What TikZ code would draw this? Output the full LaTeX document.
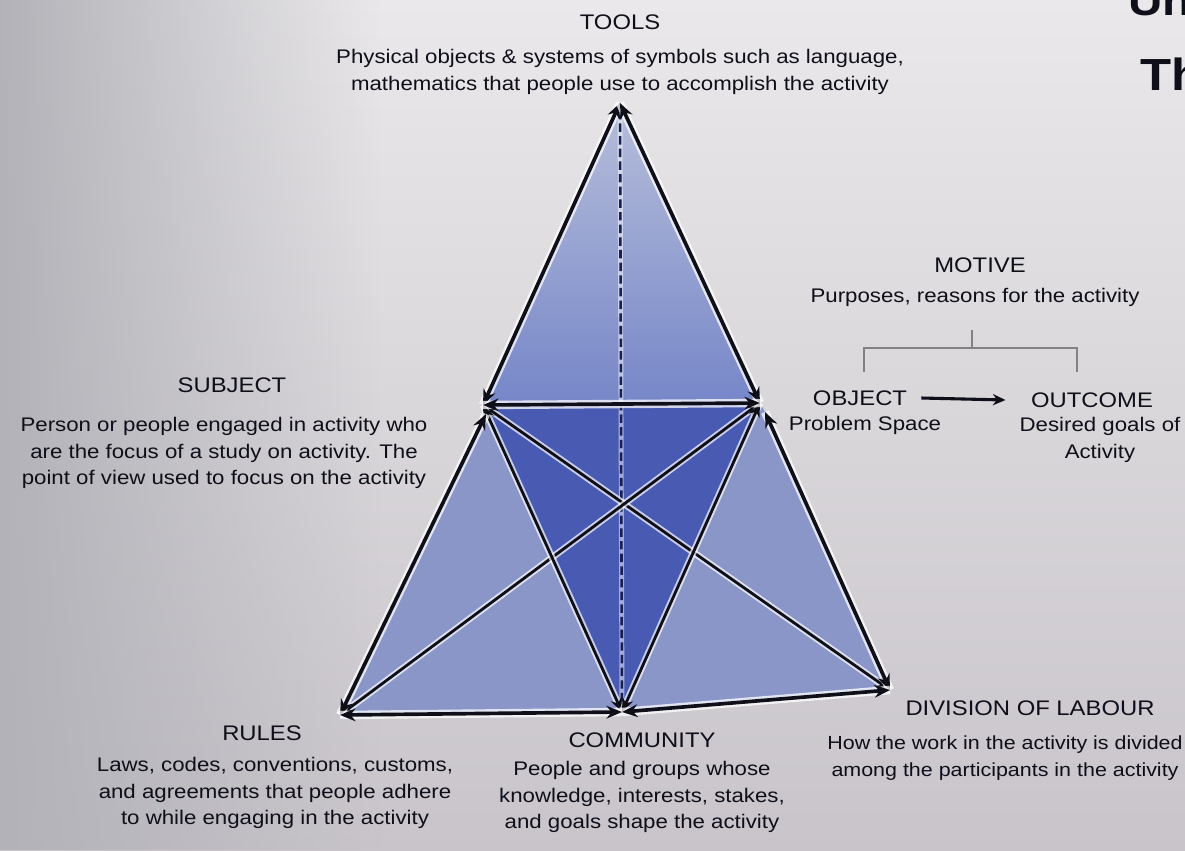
\documentclass[tikz,border=0pt]{standalone}
\usepackage{fontspec}
\setmainfont{Liberation Sans}[FakeStretch=1.13]
\usetikzlibrary{arrows.meta,fadings}
\definecolor{bgtop}{RGB}{234,232,234}
\definecolor{bgbot}{RGB}{200,196,202}
\definecolor{bgleft}{RGB}{178,178,184}
\definecolor{outerfill}{RGB}{138,150,200}
\definecolor{toptop}{RGB}{182,190,218}
\definecolor{topbot}{RGB}{118,134,200}
\definecolor{innerfill}{RGB}{72,90,178}
\definecolor{ink}{RGB}{15,15,25}
\definecolor{bracketgray}{RGB}{130,130,134}
\tikzset{
  lbl/.style={font=\fontsize{14}{19}\selectfont, text=ink, align=center, inner sep=0pt},
  title/.style={font=\fontsize{15}{19}\selectfont, text=ink, inner sep=0pt},
  edge/.style={draw=ink, line width=2.6pt, {Stealth[length=11pt,width=9pt]}-{Stealth[length=11pt,width=9pt]},
     preaction={draw=white, line width=6pt, arrows=-, opacity=0.75}},
  inedge/.style={draw=ink, line width=2pt, {Stealth[length=10pt,width=8pt]}-{Stealth[length=10pt,width=8pt]},
     preaction={draw=white, line width=4.8pt, arrows=-, opacity=0.7}},
  midline/.style={draw={rgb,255:red,25;green,30;blue,80}, line width=1.8pt, dash pattern=on 6pt off 3pt,
     {Stealth[length=9pt,width=8pt]}-{Stealth[length=9pt,width=8pt]},
     preaction={draw=white, line width=3.5pt, arrows=-, opacity=0.5}},
  brk/.style={draw=bracketgray, line width=1.6pt},
}
\begin{document}
\begin{tikzpicture}[x=0.025cm,y=-0.025cm]
\clip (0,0) rectangle (1185,850);
\shade[top color=bgtop, bottom color=bgbot] (0,0) rectangle (1185,850);
\fill[bgleft, path fading=east] (0,0) rectangle (380,850);

% vertices
\coordinate (T) at (620,103);
\coordinate (S) at (483,405);
\coordinate (O) at (760,403);
\coordinate (S2) at (486,414);
\coordinate (O2) at (765,412);
\coordinate (R) at (340,715);
\coordinate (C) at (622,712);
\coordinate (D) at (890,690);

% fills
\fill[outerfill] (T) -- (S) -- (S2) -- (R) -- (C) -- (D) -- (O2) -- (O) -- cycle;
\shade[top color=toptop, bottom color=topbot] (T) -- (S) -- (O) -- cycle;
\fill[innerfill] (S) -- (O) -- (C) -- cycle;

% inner lines
\draw[midline] (T) -- (C);
\draw[inedge] (S) -- (D);
\draw[inedge] (O) -- (R);
\draw[inedge] (S) -- (C);
\draw[inedge] (O) -- (C);

% outer edges
\draw[edge] (T) -- (S);
\draw[edge] (T) -- (O);
\draw[edge] (S) -- (O);
\draw[edge] (S2) -- (R);
\draw[edge] (O2) -- (D);
\draw[edge] (R) -- (C);
\draw[edge] (C) -- (D);

% labels
\node[title] (tools) at (620,22) {TOOLS};
\node[lbl] (toolsd) at (620,72) {Physical objects \& systems of symbols such as language,\\mathematics that people use to accomplish the activity};

\node[title] (subj) at (232,385) {SUBJECT};
\node[lbl] (subjd) at (224,453) {Person or people engaged in activity who\\are the focus of a study on activity. The\\point of view used to focus on the activity};

\node[title] (motive) at (980,265) {MOTIVE};
\node[lbl] (motived) at (975,297) {Purposes, reasons for the activity};

\coordinate (bl) at (864,372);
\coordinate (blt) at (864,348);
\coordinate (brt) at (1077,348);
\coordinate (br) at (1077,372);
\coordinate (bm) at (972,348);
\coordinate (bmt) at (972,330);
\draw[brk] (bl) -- (blt) -- (brt) -- (br);
\draw[brk] (bm) -- (bmt);

\node[title] (obj) at (860,398) {OBJECT};
\node[lbl] (objd) at (865,425) {Problem Space};
\node[title] (out) at (1092,400) {OUTCOME};
\node[lbl] (outd) at (1100,440) {Desired goals of\\Activity};
\draw[draw=ink, line width=2.2pt, -{Stealth[length=9pt,width=8pt]}] (obj.east) ++(14,0) coordinate (oa) -- ([xshift=-18pt]out.west) coordinate (ob);

\node[title] (rules) at (262,733) {RULES};
\node[lbl] (rulesd) at (275,793) {Laws, codes, conventions, customs,\\and agreements that people adhere\\to while engaging in the activity};

\node[title] (comm) at (642,740) {COMMUNITY};
\node[lbl] (commd) at (642,797) {People and groups whose\\knowledge, interests, stakes,\\and goals shape the activity};

\node[title] (div) at (1030,708) {DIVISION OF LABOUR};
\node[lbl, font=\fontsize{13.5}{19}\selectfont] (divd) at (1005,758) {How the work in the activity is divided\\among the participants in the activity};

\node[font=\bfseries\fontsize{30}{30}\selectfont, text=ink, anchor=north west, inner sep=0pt] (un) at (1128,-14) {Un};
\node[font=\bfseries\fontsize{32}{32}\selectfont, text=ink, anchor=north west, inner sep=0pt] (th) at (1140,58) {Th};
\end{tikzpicture}
\end{document}
